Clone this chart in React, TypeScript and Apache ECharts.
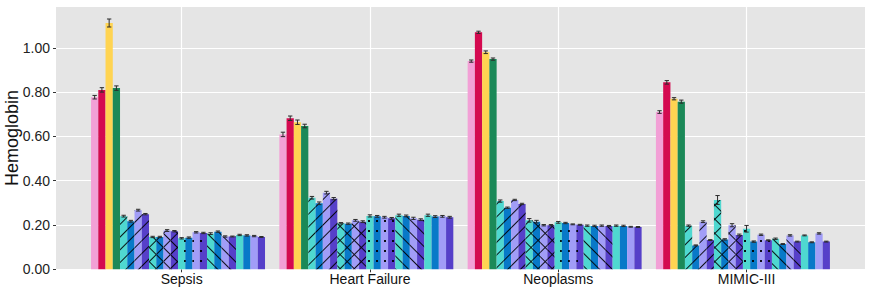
import React, { useEffect, useRef } from 'react';
import * as echarts from 'echarts';

// ---------- data ----------
const categories = ['Sepsis', 'Heart Failure', 'Neoplasms', 'MIMIC-III'];
const yTickStep = 0.2;
const yMax = 1.1856;

// colours of the four solid series, then the four colours reused by each pattern family
const solidColors = ['#F2A0D6', '#D40A50', '#FFD452', '#1B8958'];
const familyColors = ['#4FD8D0', '#0879C8', '#A19DF7', '#5640C9'];

// values: one row per series, columns follow `categories`
const solidValues = [
  [0.777, 0.609, 0.94, 0.71],
  [0.81, 0.682, 1.07, 0.844],
  [1.112, 0.664, 0.98, 0.77],
  [0.818, 0.647, 0.949, 0.757],
];
const slashValues = [
  [0.24, 0.323, 0.308, 0.197],
  [0.217, 0.298, 0.278, 0.108],
  [0.267, 0.346, 0.313, 0.215],
  [0.249, 0.319, 0.295, 0.132],
];
const crossValues = [
  [0.146, 0.208, 0.221, 0.313],
  [0.146, 0.206, 0.215, 0.135],
  [0.175, 0.221, 0.199, 0.199],
  [0.172, 0.215, 0.199, 0.155],
];
const dotValues = [
  [0.14, 0.241, 0.212, 0.183],
  [0.143, 0.239, 0.209, 0.125],
  [0.167, 0.235, 0.203, 0.156],
  [0.164, 0.23, 0.201, 0.131],
];
const backslashValues = [
  [0.161, 0.244, 0.197, 0.138],
  [0.17, 0.241, 0.196, 0.114],
  [0.148, 0.23, 0.197, 0.153],
  [0.148, 0.224, 0.196, 0.125],
];
const plainValues = [
  [0.155, 0.244, 0.197, 0.153],
  [0.153, 0.238, 0.196, 0.122],
  [0.15, 0.239, 0.192, 0.162],
  [0.146, 0.235, 0.191, 0.125],
];

// standard errors, same layout
const solidErrors = [
  [0.008, 0.01, 0.005, 0.006],
  [0.01, 0.01, 0.005, 0.008],
  [0.018, 0.01, 0.006, 0.005],
  [0.01, 0.008, 0.005, 0.007],
];
const slashErrors = [
  [0.004, 0.006, 0.005, 0.003],
  [0.004, 0.006, 0.003, 0.002],
  [0.004, 0.006, 0.003, 0.004],
  [0.003, 0.005, 0.003, 0.002],
];
const crossErrors = [
  [0.003, 0.003, 0.008, 0.02],
  [0.003, 0.003, 0.006, 0.003],
  [0.004, 0.004, 0.003, 0.007],
  [0.003, 0.004, 0.003, 0.004],
];
const dotErrors = [
  [0.003, 0.005, 0.004, 0.015],
  [0.003, 0.004, 0.003, 0.003],
  [0.003, 0.004, 0.002, 0.003],
  [0.003, 0.004, 0.002, 0.002],
];
const backslashErrors = [
  [0.004, 0.005, 0.003, 0.003],
  [0.003, 0.004, 0.003, 0.002],
  [0.003, 0.005, 0.003, 0.003],
  [0.002, 0.004, 0.002, 0.002],
];
const plainErrors = [
  [0.003, 0.005, 0.003, 0.002],
  [0.003, 0.004, 0.003, 0.002],
  [0.003, 0.004, 0.002, 0.003],
  [0.002, 0.004, 0.002, 0.002],
];

// ---------- styling ----------
const SLOTS = 25; // 24 visible series + one empty dodge slot
const GROUP_FRAC = 0.9625;
const BAR_W_PCT = (GROUP_FRAC / SLOTS) * 100;
const FONT = '"Liberation Sans", Arial, Helvetica, sans-serif';
const hatch = 'rgba(0,0,0,0.9)';

const crossRows: number[][] = [[1, 0]];
for (let i = 0; i < 9; i++) crossRows.push([1, 9]);

const decals: Record<string, any> = {
  slash: { symbol: 'rect', symbolSize: 1, dashArrayX: [1, 0], dashArrayY: [1, 8], rotation: -Math.PI / 4, color: hatch },
  backslash: { symbol: 'rect', symbolSize: 1, dashArrayX: [1, 0], dashArrayY: [1, 8], rotation: Math.PI / 4, color: hatch },
  cross: { symbol: 'rect', symbolSize: 1, dashArrayX: crossRows, dashArrayY: [1, 0], rotation: Math.PI / 4, color: hatch },
  dots: { symbol: 'rect', symbolSize: 1, dashArrayX: [2, 6], dashArrayY: [2, 8], color: hatch },
};

type Fam = { pattern: string | null; colors: string[]; values: number[][]; errors: number[][] };
const families: Fam[] = [
  { pattern: null, colors: solidColors, values: solidValues, errors: solidErrors },
  { pattern: 'slash', colors: familyColors, values: slashValues, errors: slashErrors },
  { pattern: 'cross', colors: familyColors, values: crossValues, errors: crossErrors },
  { pattern: 'dots', colors: familyColors, values: dotValues, errors: dotErrors },
  { pattern: 'backslash', colors: familyColors, values: backslashValues, errors: backslashErrors },
  { pattern: null, colors: familyColors, values: plainValues, errors: plainErrors },
];

export default function App() {
  const ref = useRef<HTMLDivElement>(null);
  useEffect(() => {
    if (!ref.current) return;
    const chart = echarts.init(ref.current, null, { renderer: 'svg' });

    const series: any[] = [];
    const errData: number[][] = [];
    let slot = 0;
    families.forEach((fam) => {
      fam.values.forEach((vals, k) => {
        const s: any = {
          name: `series${slot + 1}`,
          type: 'bar',
          xAxisIndex: 1,
          yAxisIndex: 1,
          barWidth: BAR_W_PCT + '%',
          barGap: '0%',
          data: vals,
          itemStyle: { color: fam.colors[k] },
          z: 2,
        };
        if (fam.pattern) s.itemStyle.decal = decals[fam.pattern];
        series.push(s);
        vals.forEach((v, c) => {
          const e = fam.errors[k][c];
          errData.push([c, slot, v - e, v + e]);
        });
        slot++;
      });
    });
    // empty dodge slot
    series.push({
      name: 'empty',
      type: 'bar',
      xAxisIndex: 1,
      yAxisIndex: 1,
      barWidth: BAR_W_PCT + '%',
      barGap: '0%',
      data: categories.map(() => '-'),
    });
    // vertical major grid lines at category centres
    series.push({
      name: 'grid',
      type: 'line',
      xAxisIndex: 1,
      yAxisIndex: 1,
      z: 1,
      data: categories.map(() => '-'),
      markLine: {
        z: 1,
        silent: true,
        symbol: ['none', 'none'],
        label: { show: false },
        lineStyle: { color: '#FFFFFF', width: 1.2, type: 'solid' },
        data: categories.map((c) => ({ xAxis: c })),
      },
    });
    series.push({
      type: 'custom',
      xAxisIndex: 1,
      yAxisIndex: 1,
      z: 10,
      clip: false,
      data: errData,
      encode: { x: 0, y: [2, 3] },
      renderItem: (params: any, api: any) => {
        const c = api.value(0);
        const s = api.value(1);
        const lo = api.coord([c, api.value(2)]);
        const hi = api.coord([c, api.value(3)]);
        const band = api.size([1, 0])[0];
        const bw = (band * GROUP_FRAC) / SLOTS;
        const x = lo[0] + (s - (SLOTS - 1) / 2) * bw;
        const h = bw * 0.3;
        const st = { stroke: '#2b2b2b', lineWidth: 1 };
        return {
          type: 'group',
          children: [
            { type: 'line', shape: { x1: x, y1: lo[1], x2: x, y2: hi[1] }, style: st },
            { type: 'line', shape: { x1: x - h, y1: lo[1], x2: x + h, y2: lo[1] }, style: st },
            { type: 'line', shape: { x1: x - h, y1: hi[1], x2: x + h, y2: hi[1] }, style: st },
          ],
        };
      },
    });

    const top = 6.7;
    const height = 262.6;
    chart.setOption({
      animation: false,
      backgroundColor: '#FFFFFF',
      grid: [
        { left: 56, top, width: 809, height, show: true, backgroundColor: '#E5E5E5', borderWidth: 0, containLabel: false, outerBoundsMode: 'none' },
        { left: 87.5, top, width: 753.2, height, containLabel: false, outerBoundsMode: 'none' },
      ],
      xAxis: [
        { type: 'value', gridIndex: 0, min: 0, max: 1, show: false },
        {
          type: 'category',
          gridIndex: 1,
          data: categories,
          axisLine: { show: false },
          axisTick: { show: true, alignWithLabel: true, length: 3, lineStyle: { color: '#333333' } },
          axisLabel: { fontFamily: FONT, fontSize: 14, color: '#111111', margin: 3 },
          splitLine: { show: false },
        },
      ],
      yAxis: [
        {
          type: 'value',
          gridIndex: 0,
          min: 0,
          max: yMax,
          interval: yTickStep,
          name: 'Hemoglobin',
          nameLocation: 'middle',
          nameGap: 35,
          nameMoveOverlap: false,
          nameTextStyle: { fontFamily: FONT, fontSize: 18, color: '#111111' },
          axisLine: { show: false },
          axisTick: { show: true, length: 3, lineStyle: { color: '#333333' } },
          axisLabel: {
            fontFamily: FONT,
            fontSize: 14,
            color: '#222222',
            margin: 6,
            showMaxLabel: false,
            formatter: (v: number) => v.toFixed(2),
          },
          splitLine: { show: true, lineStyle: { color: '#FFFFFF', width: 1.2 } },
        },
        { type: 'value', gridIndex: 1, min: 0, max: yMax, show: false, splitLine: { show: false } },
      ],
      series,
    });
    return () => chart.dispose();
  }, []);
  return (
    <div
      ref={ref}
      style={{ position: 'absolute', left: 0, top: 0, width: 872, height: 292 }}
    />
  );
}
